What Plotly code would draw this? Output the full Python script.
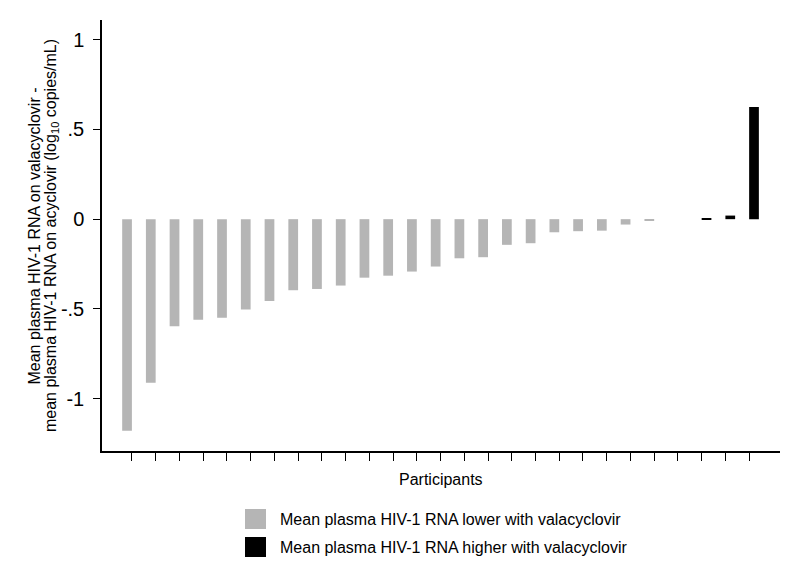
import plotly.graph_objects as go

# ---- data ----
participants = list(range(1, 28))
lower_with_valacyclovir = [-1.179, -0.911, -0.597, -0.560, -0.550, -0.504, -0.456, -0.396,
                           -0.389, -0.370, -0.326, -0.315, -0.292, -0.264, -0.218, -0.212,
                           -0.143, -0.134, -0.073, -0.067, -0.064, -0.030, -0.008,
                           None, None, None, None]
higher_with_valacyclovir = [None] * 24 + [0.005, 0.020, 0.625]
ytick_vals = [-1, -0.5, 0, 0.5, 1]
ytick_text = ["-1", "-.5", "0", ".5", "1"]

legend_lower = "Mean plasma HIV-1 RNA lower with valacyclovir"
legend_higher = "Mean plasma HIV-1 RNA higher with valacyclovir"
ytitle_1 = "Mean plasma HIV-1 RNA on valacyclovir -"
ytitle_2 = "mean plasma HIV-1 RNA on acyclovir (log<sub>10</sub> copies/mL)"
xtitle = "Participants"

GRAY = "#b5b5b5"
BLACK = "#000000"
FONT = "Arial, 'Liberation Sans', sans-serif"

fig = go.Figure()
fig.add_trace(go.Bar(x=participants, y=lower_with_valacyclovir, name=legend_lower,
                     marker=dict(color=GRAY, line=dict(width=0)), showlegend=False))
fig.add_trace(go.Bar(x=participants, y=higher_with_valacyclovir, name=legend_higher,
                     marker=dict(color=BLACK, line=dict(width=0)), showlegend=False))

OFF = 8  # default body margin of the html page
W, H = 800 - OFF, 582 - OFF
L, T = 102 - OFF, 20 - OFF
R = W - (780 - OFF)
B = H - (451 - OFF)
pw, ph = W - L - R, H - T - B

def px(x):
    return (x - OFF - L) / pw

def py(y):
    return (H - B - (y - OFF)) / ph

fig.update_layout(
    width=W, height=H,
    margin=dict(l=L, r=R, t=T, b=B),
    paper_bgcolor="white", plot_bgcolor="white",
    barmode="group", bargap=0.18, bargroupgap=0,
    font=dict(family=FONT, color="black"),
    xaxis=dict(range=[-0.26, 28.3], tickvals=participants, showticklabels=False,
               ticks="outside", ticklen=8, tickwidth=1, tickcolor="black",
               showline=True, linecolor="black", linewidth=1.5,
               showgrid=False, zeroline=False),
    yaxis=dict(range=[-1.292, 1.11], tickvals=ytick_vals, ticktext=ytick_text,
               ticks="outside", ticklen=7, tickwidth=1, tickcolor="black",
               ticklabelstandoff=5,
               tickfont=dict(size=20, family=FONT, color="black"),
               showline=True, linecolor="black", linewidth=1.5,
               showgrid=False, zeroline=False),
    showlegend=False,
)

ann = []
ann.append(dict(text=ytitle_1, xref="paper", yref="paper", x=px(33.5), y=py(236),
                xanchor="center", yanchor="middle", textangle=-90, showarrow=False,
                font=dict(size=16, family=FONT, color="black")))
ann.append(dict(text=ytitle_2, xref="paper", yref="paper", x=px(51), y=py(236),
                xanchor="center", yanchor="middle", textangle=-90, showarrow=False,
                font=dict(size=16, family=FONT, color="black")))
ann.append(dict(text=xtitle, xref="paper", yref="paper", x=px(441), y=py(479),
                xanchor="center", yanchor="middle", showarrow=False,
                font=dict(size=16, family=FONT, color="black")))
# legend
for label, color, yc in [(legend_lower, GRAY, 519), (legend_higher, BLACK, 547)]:
    fig.add_shape(type="rect", xref="paper", yref="paper",
                  x0=px(245), x1=px(266), y0=py(yc - 10), y1=py(yc + 10),
                  fillcolor=color, line=dict(width=0))
    ann.append(dict(text=label, xref="paper", yref="paper", x=px(278), y=py(yc),
                    xanchor="left", yanchor="middle", showarrow=False,
                    font=dict(size=16, family=FONT, color="black")))
fig.update_layout(annotations=ann)

fig.write_html("out.html")
